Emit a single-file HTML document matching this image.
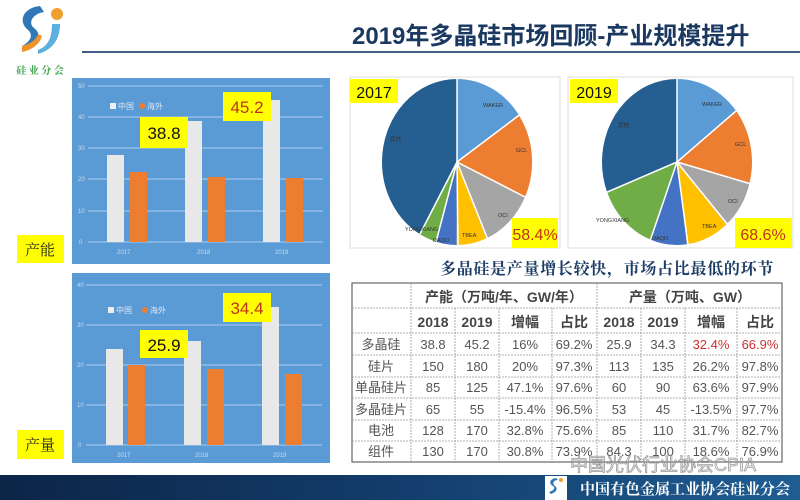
<!DOCTYPE html>
<html><head><meta charset="utf-8"><style>
html,body{margin:0;padding:0;background:#fff;}
body{width:800px;height:500px;overflow:hidden;position:relative;font-family:"Liberation Sans","Noto Sans CJK SC",sans-serif;}
</style></head><body>
<svg width="800" height="500" viewBox="0 0 800 500" xmlns="http://www.w3.org/2000/svg" style="position:absolute;left:0;top:0">
<defs>
<linearGradient id="band" x1="0" x2="1" y1="0" y2="0">
<stop offset="0" stop-color="#0c2547"/><stop offset="0.5" stop-color="#133d6c"/><stop offset="1" stop-color="#1f5d92"/>
</linearGradient>
</defs>
<!-- logo -->
<path d="M40 6 C22 8 18 22 28 30 C34 35 30 42 22 46 L26 50 C40 44 42 34 34 28 C28 23 32 14 44 12 Z" fill="#2e78b8"/>
<path d="M22 46 C30 44 36 40 38 34 L42 36 C40 44 32 50 22 52 Z" fill="#f0922b"/>
<circle cx="57" cy="14" r="6" fill="#f0a030"/>
<path d="M52 24 L60 24 C60 40 52 50 38 54 L38 50 C48 46 52 38 52 24 Z" fill="#5cb0e0"/>
<text x="40" y="74" font-size="10" font-weight="bold" fill="#3aa04a" text-anchor="middle" font-family="Noto Serif CJK SC,serif">硅 业 分 会</text>
<!-- title -->
<text x="352" y="44" font-size="24" font-weight="bold" fill="#1a3860" font-family="Liberation Sans,Noto Sans CJK SC,sans-serif">2019年多晶硅市场回顾-产业规模提升</text>
<line x1="82" y1="52" x2="800" y2="52" stroke="#3e5e84" stroke-width="2"/>

<!-- top bar chart -->
<rect x="72" y="78" width="258" height="186" fill="#5b9bd5"/>
<g stroke="#a8cbee" stroke-width="1">
<line x1="88" y1="86" x2="323" y2="86"/><line x1="88" y1="117" x2="323" y2="117"/><line x1="88" y1="148" x2="323" y2="148"/><line x1="88" y1="179" x2="323" y2="179"/><line x1="88" y1="211" x2="323" y2="211"/><line x1="88" y1="242" x2="323" y2="242"/>
</g>
<g font-size="6" fill="#c8dcef">
<text x="78" y="88">50</text><text x="78" y="119">40</text><text x="78" y="150">30</text><text x="78" y="181">20</text><text x="78" y="213">10</text><text x="79" y="244">0</text>
<text x="117" y="254">2017</text><text x="197" y="254">2018</text><text x="275" y="254">2019</text>
</g>
<rect x="107" y="155" width="17" height="87" fill="#e8e8e8"/><rect x="130" y="172" width="17" height="70" fill="#ed7d31"/>
<rect x="185" y="121" width="17" height="121" fill="#e8e8e8"/><rect x="208" y="177" width="17" height="65" fill="#ed7d31"/>
<rect x="263" y="100" width="17" height="142" fill="#e8e8e8"/><rect x="286" y="178" width="17" height="64" fill="#ed7d31"/>
<rect x="110" y="103" width="6" height="6" fill="#eee"/><text x="118" y="109" font-size="8" fill="#dde8f4">中国</text>
<circle cx="142" cy="106" r="3" fill="#ed7d31"/><text x="147" y="109" font-size="8" fill="#dde8f4">海外</text>
<rect x="140" y="117" width="48" height="31" fill="#ffff00"/><text x="164" y="139" font-size="17" text-anchor="middle" fill="#111">38.8</text>
<rect x="223" y="92" width="48" height="29" fill="#ffff00"/><text x="247" y="113" font-size="17" text-anchor="middle" fill="#c0331a">45.2</text>
<rect x="17" y="235" width="47" height="28" fill="#ffff00"/><text x="40" y="255" font-size="15" text-anchor="middle" fill="#222" font-family="Noto Serif CJK SC,serif">产能</text>

<!-- bottom bar chart -->
<rect x="72" y="273" width="258" height="190" fill="#5b9bd5"/>
<g stroke="#a8cbee" stroke-width="1">
<line x1="86" y1="285" x2="322" y2="285"/><line x1="86" y1="325" x2="322" y2="325"/><line x1="86" y1="365" x2="322" y2="365"/><line x1="86" y1="405" x2="322" y2="405"/><line x1="86" y1="445" x2="322" y2="445"/>
</g>
<g font-size="6" fill="#c8dcef">
<text x="77" y="287">40</text><text x="77" y="327">30</text><text x="77" y="367">20</text><text x="77" y="407">10</text><text x="78" y="447">0</text>
<text x="117" y="457">2017</text><text x="195" y="457">2018</text><text x="273" y="457">2019</text>
</g>
<rect x="106" y="349" width="17" height="96" fill="#e8e8e8"/><rect x="128" y="365" width="17" height="80" fill="#ed7d31"/>
<rect x="184" y="341" width="17" height="104" fill="#e8e8e8"/><rect x="207" y="369" width="17" height="76" fill="#ed7d31"/>
<rect x="262" y="307" width="17" height="138" fill="#e8e8e8"/><rect x="285" y="374" width="17" height="71" fill="#ed7d31"/>
<rect x="108" y="307" width="6" height="6" fill="#eee"/><text x="116" y="313" font-size="8" fill="#dde8f4">中国</text>
<circle cx="145" cy="310" r="3" fill="#ed7d31"/><text x="150" y="313" font-size="8" fill="#dde8f4">海外</text>
<rect x="140" y="330" width="48" height="28" fill="#ffff00"/><text x="164" y="351" font-size="17" text-anchor="middle" fill="#111">25.9</text>
<rect x="223" y="293" width="48" height="29" fill="#ffff00"/><text x="247" y="314" font-size="17" text-anchor="middle" fill="#c0331a">34.4</text>
<rect x="17" y="430" width="47" height="29" fill="#ffff00"/><text x="40" y="450" font-size="15" text-anchor="middle" fill="#222" font-family="Noto Serif CJK SC,serif">产量</text>

<!-- pies -->
<rect x="350" y="77" width="210" height="171" fill="#fff" stroke="#ddd"/>
<rect x="568" y="77" width="225" height="171" fill="#fff" stroke="#ddd"/>
<g transform="translate(457,162) scale(1,1.107) rotate(-90)" fill="none" stroke-width="75">
<circle r="37.5" stroke="#5b9bd5" stroke-dasharray="36.05 300" stroke-dashoffset="0"/>
<circle r="37.5" stroke="#ed7d31" stroke-dasharray="39.4 300" stroke-dashoffset="-36.05"/>
<circle r="37.5" stroke="#a5a5a5" stroke-dasharray="27.3 300" stroke-dashoffset="-75.4"/>
<circle r="37.5" stroke="#ffc000" stroke-dasharray="15.1 300" stroke-dashoffset="-102.7"/>
<circle r="37.5" stroke="#4472c4" stroke-dasharray="10.6 300" stroke-dashoffset="-117.8"/>
<circle r="37.5" stroke="#70ad47" stroke-dasharray="8.2 300" stroke-dashoffset="-128.4"/>
<circle r="37.5" stroke="#255e91" stroke-dasharray="99 300" stroke-dashoffset="-136.6"/>
</g>
<g transform="translate(677,162) scale(1,1.107) rotate(-90)" fill="none" stroke-width="75">
<circle r="37.5" stroke="#5b9bd5" stroke-dasharray="33.9 300" stroke-dashoffset="0"/>
<circle r="37.5" stroke="#ed7d31" stroke-dasharray="34.4 300" stroke-dashoffset="-33.9"/>
<circle r="37.5" stroke="#a5a5a5" stroke-dasharray="22.6 300" stroke-dashoffset="-68.3"/>
<circle r="37.5" stroke="#ffc000" stroke-dasharray="21.7 300" stroke-dashoffset="-90.9"/>
<circle r="37.5" stroke="#4472c4" stroke-dasharray="18.9 300" stroke-dashoffset="-112.6"/>
<circle r="37.5" stroke="#70ad47" stroke-dasharray="31.1 300" stroke-dashoffset="-131.5"/>
<circle r="37.5" stroke="#255e91" stroke-dasharray="73 300" stroke-dashoffset="-162.6"/>
</g>
<g stroke="#fff" stroke-width="1.5">
<line x1="457" y1="162" x2="457" y2="78"/><line x1="457" y1="162" x2="522" y2="113"/><line x1="457" y1="162" x2="527" y2="198"/><line x1="457" y1="162" x2="488" y2="240"/><line x1="457" y1="162" x2="458" y2="245"/><line x1="457" y1="162" x2="436" y2="242"/><line x1="457" y1="162" x2="420" y2="234"/>
<line x1="677" y1="162" x2="677" y2="78"/><line x1="677" y1="162" x2="736" y2="111"/><line x1="677" y1="162" x2="751" y2="184"/><line x1="677" y1="162" x2="728" y2="225"/><line x1="677" y1="162" x2="688" y2="245"/><line x1="677" y1="162" x2="650" y2="241"/><line x1="677" y1="162" x2="605" y2="193"/>
</g>
<g font-size="5.5" fill="#333">
<text x="483" y="107">WAKER</text><text x="516" y="152">GCL</text><text x="498" y="217">OCI</text><text x="462" y="237">TBEA</text><text x="433" y="242">DAQO</text><text x="405" y="231">YONGXIANG</text><text x="390" y="141">其他</text>
<text x="702" y="106">WAKER</text><text x="735" y="146">GCL</text><text x="728" y="203">OCI</text><text x="702" y="228">TBEA</text><text x="652" y="240">DAQO</text><text x="596" y="222">YONGXIANG</text><text x="618" y="127">其他</text>
</g>
<rect x="350" y="79" width="48" height="24" fill="#ffff00"/><text x="374" y="98" font-size="16" text-anchor="middle" fill="#111">2017</text>
<rect x="570" y="79" width="48" height="24" fill="#ffff00"/><text x="594" y="98" font-size="16" text-anchor="middle" fill="#111">2019</text>
<rect x="512" y="218" width="46" height="30" fill="#ffff00"/><text x="535" y="240" font-size="16" text-anchor="middle" fill="#c0331a">58.4%</text>
<rect x="735" y="218" width="57" height="30" fill="#ffff00"/><text x="763" y="240" font-size="16" text-anchor="middle" fill="#c0331a">68.6%</text>

<text x="440" y="274" font-size="16" letter-spacing="0.7" font-weight="bold" fill="#1c3c66" font-family="Noto Serif CJK SC,serif">多晶硅是产量增长较快，市场占比最低的环节</text>

<!-- table -->
<g font-size="13" fill="#555" text-anchor="middle">
<rect x="352" y="283" width="430" height="179" fill="#fff" stroke="#666" stroke-width="1.2"/>
<g stroke="#999" stroke-dasharray="2 1" stroke-width="0.8">
<line x1="352" y1="308" x2="782" y2="308"/><line x1="352" y1="333" x2="782" y2="333"/><line x1="352" y1="355" x2="782" y2="355"/><line x1="352" y1="377" x2="782" y2="377"/><line x1="352" y1="398" x2="782" y2="398"/><line x1="352" y1="420" x2="782" y2="420"/><line x1="352" y1="441" x2="782" y2="441"/>
<line x1="411" y1="283" x2="411" y2="462"/><line x1="597" y1="283" x2="597" y2="462"/>
<line x1="455" y1="308" x2="455" y2="462"/><line x1="499" y1="308" x2="499" y2="462"/><line x1="552" y1="308" x2="552" y2="462"/><line x1="641" y1="308" x2="641" y2="462"/><line x1="685" y1="308" x2="685" y2="462"/><line x1="737" y1="308" x2="737" y2="462"/>
</g>
<g font-weight="bold" font-size="14" fill="#444">
<text x="504" y="302">产能（万吨/年、GW/年）</text><text x="690" y="302">产量（万吨、GW）</text>
<text x="433" y="327">2018</text><text x="477" y="327">2019</text><text x="525" y="327">增幅</text><text x="574" y="327">占比</text>
<text x="619" y="327">2018</text><text x="663" y="327">2019</text><text x="711" y="327">增幅</text><text x="760" y="327">占比</text>
</g>
<text x="381" y="349">多晶硅</text><text x="433" y="349">38.8</text><text x="477" y="349">45.2</text><text x="525" y="349">16%</text><text x="574" y="349">69.2%</text><text x="619" y="349">25.9</text><text x="663" y="349">34.3</text><text x="711" y="349" fill="#d03030">32.4%</text><text x="760" y="349" fill="#d03030">66.9%</text>
<text x="381" y="371">硅片</text><text x="433" y="371">150</text><text x="477" y="371">180</text><text x="525" y="371">20%</text><text x="574" y="371">97.3%</text><text x="619" y="371">113</text><text x="663" y="371">135</text><text x="711" y="371">26.2%</text><text x="760" y="371">97.8%</text>
<text x="381" y="392">单晶硅片</text><text x="433" y="392">85</text><text x="477" y="392">125</text><text x="525" y="392">47.1%</text><text x="574" y="392">97.6%</text><text x="619" y="392">60</text><text x="663" y="392">90</text><text x="711" y="392">63.6%</text><text x="760" y="392">97.9%</text>
<text x="381" y="414">多晶硅片</text><text x="433" y="414">65</text><text x="477" y="414">55</text><text x="525" y="414">-15.4%</text><text x="574" y="414">96.5%</text><text x="619" y="414">53</text><text x="663" y="414">45</text><text x="711" y="414">-13.5%</text><text x="760" y="414">97.7%</text>
<text x="381" y="435">电池</text><text x="433" y="435">128</text><text x="477" y="435">170</text><text x="525" y="435">32.8%</text><text x="574" y="435">75.6%</text><text x="619" y="435">85</text><text x="663" y="435">110</text><text x="711" y="435">31.7%</text><text x="760" y="435">82.7%</text>
<text x="381" y="456">组件</text><text x="433" y="456">130</text><text x="477" y="456">170</text><text x="525" y="456">30.8%</text><text x="574" y="456">73.9%</text><text x="619" y="456">84.3</text><text x="663" y="456">100</text><text x="711" y="456">18.6%</text><text x="760" y="456">76.9%</text>
</g>
<text x="570" y="471" font-size="18" fill="none" stroke="#999" stroke-width="0.8">中国光伏行业协会CPIA</text>

<!-- footer band -->
<rect x="0" y="475" width="800" height="25" fill="url(#band)"/>
<rect x="545" y="476" width="22" height="24" fill="#fff"/>
<path d="M556 478 C549 479 549 484 553 486 C556 488 553 491 549 492 L551 494 C557 492 558 488 555 486 C552 484 553 480 558 480Z" fill="#2e78b8"/>
<circle cx="561" cy="480" r="2" fill="#f0a030"/>
<text x="580" y="494" font-size="15" font-weight="bold" fill="#fff" font-family="Noto Serif CJK SC,serif">中国有色金属工业协会硅业分会</text>
</svg>
</body></html>
